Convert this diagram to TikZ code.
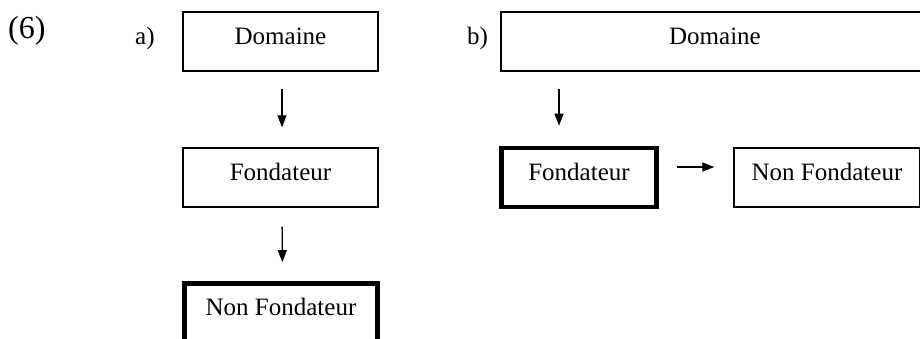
\documentclass[tikz,border=0pt]{standalone}
\usepackage{fontspec}
\setmainfont{Liberation Serif}
\usetikzlibrary{arrows.meta}
\begin{document}
\begin{tikzpicture}[x=1pt,y=1pt,
  box/.style={draw=black, line width=1.3pt, inner sep=0pt, text height=32pt, text depth=27pt,
              font=\fontsize{25}{30}\selectfont},
  thickbox/.style={box, line width=4.6pt},
  arr/.style={line width=1.3pt, -{Triangle[length=12pt,width=9pt]}},
  lbl/.style={inner sep=0pt, anchor=base west, font=\fontsize{25}{30}\selectfont}]
\useasboundingbox (0,0) rectangle (920,-338);
\clip (0,0) rectangle (920,-338);
% labels
\node[lbl, font=\fontsize{32}{38}\selectfont] (num) at (8,-38) {(6)};
\node[lbl] (la) at (135,-44) {a)};
\node[lbl] (lb) at (467,-44) {b)};
% a)
\node[box, minimum width=195pt] (Da) at (280.5,-41.5) {Domaine};
\node[box, minimum width=195pt] (Fa) at (280.5,-177.5) {Fondateur};
\node[thickbox, minimum width=193.5pt] (NFa) at (281,-313) {Non Fondateur};
\draw[arr, shorten <=17pt, shorten >=20pt] ([xshift=1.5pt]Da.south) -- ([xshift=1.5pt]Fa.north);
\draw[arr, shorten <=19pt, shorten >=19pt] ([xshift=1.5pt]Fa.south) -- ([xshift=1.5pt]NFa.north);
% b)
\node[box, minimum width=428pt] (Db) at (715,-41.5) {Domaine};
\node[thickbox, minimum width=155pt] (Fb) at (579,-177.5) {Fondateur};
\node[box, minimum width=186pt] (NFb) at (827,-177.5) {Non Fondateur};
\draw[arr, shorten <=17pt, shorten >=20pt] ([xshift=-20pt]Fb.north |- Db.south) -- ([xshift=-20pt]Fb.north);
\draw[arr, shorten <=18pt, shorten >=19pt] ([yshift=10.5pt]Fb.east) -- ([yshift=10.5pt]NFb.west);
\end{tikzpicture}
\end{document}
